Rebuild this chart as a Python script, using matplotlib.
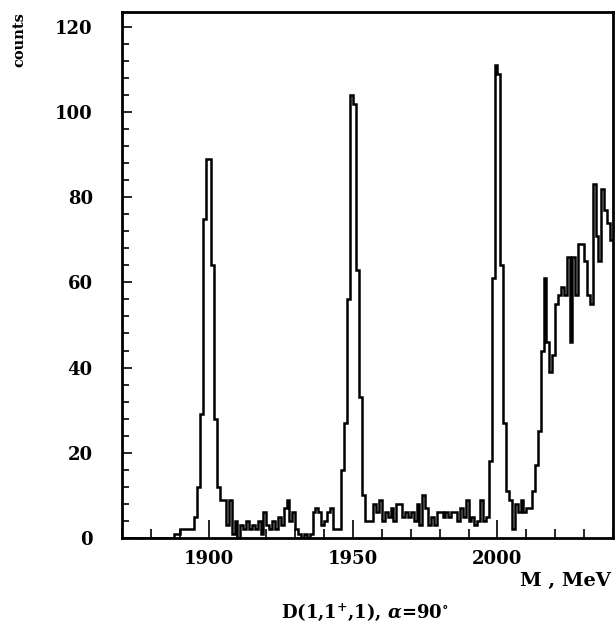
# -*- coding: utf-8 -*-
# Invariant mass spectrum D(1,1+,1), alpha = 90 deg
# ============================================

# Imports
import numpy as np
import matplotlib
matplotlib.use("Agg")
import matplotlib.pyplot as plt
from matplotlib.ticker import MultipleLocator
# ============================================

plt.close("all")

# Font settings in plot
plt.rc('font', family = 'DejaVu Serif', weight = 'bold', size = 13)
plt.rc('mathtext', fontset = 'dejavuserif')
# ============================================

# Data: 1 MeV bins from 1870 to 2040 MeV
bin_edges = np.arange(1870, 2041)
counts = [
    0, 0, 0, 0, 0, 0, 0, 0, 0, 0,          # 1870
    0, 0, 0, 0, 0, 0, 0, 0, 1, 1,          # 1880
    2, 2, 2, 2, 2, 5, 12, 29, 75, 89,      # 1890
    89, 64, 28, 12, 9, 9, 3, 9, 1, 4,      # 1900
    0, 3, 2, 4, 2, 3, 2, 4, 1, 6,          # 1910
    3, 2, 4, 2, 5, 3, 7, 9, 4, 6,          # 1920
    2, 1, 0, 1, 0, 1, 6, 7, 6, 3,          # 1930
    4, 6, 7, 2, 2, 2, 16, 27, 56, 104,     # 1940
    102, 63, 33, 10, 4, 4, 4, 8, 6, 9,     # 1950
    4, 6, 5, 7, 4, 8, 8, 5, 6, 5,          # 1960
    6, 4, 8, 3, 10, 7, 3, 5, 3, 6,         # 1970
    6, 5, 6, 5, 6, 6, 4, 7, 5, 9,          # 1980
    4, 5, 3, 4, 9, 4, 5, 18, 61, 111,      # 1990
    109, 64, 27, 11, 9, 2, 8, 6, 9, 6,     # 2000
    7, 7, 11, 17, 25, 44, 61, 46, 39, 43,  # 2010
    55, 57, 59, 57, 66, 46, 66, 57, 69, 69,  # 2020
    65, 57, 55, 83, 71, 65, 82, 77, 74, 70,  # 2030
]
x_major = [1900, 1950, 2000]
y_major = [0, 20, 40, 60, 80, 100, 120]
# ============================================

# Main
if __name__ == '__main__':
    fig = plt.figure(figsize = (6.16, 6.35), dpi = 100)
    ax = fig.add_axes([0.198, 0.153, 0.797, 0.828])

    ax.stairs(counts, bin_edges, baseline = None, color = 'k', linewidth = 1.8)

    ax.set_xlim(1870, 2040)
    ax.set_ylim(0, 123.5)
    ax.set_xticks(x_major)
    ax.set_yticks(y_major)
    ax.xaxis.set_minor_locator(MultipleLocator(10))
    ax.yaxis.set_minor_locator(MultipleLocator(4))

    ax.tick_params(axis = 'x', which = 'major', direction = 'in', length = 13, width = 1.2, pad = 9)
    ax.tick_params(axis = 'x', which = 'minor', direction = 'in', length = 6.5, width = 1.2)
    ax.tick_params(axis = 'y', which = 'major', direction = 'in', length = 7, width = 1.2, pad = 21)
    ax.tick_params(axis = 'y', which = 'minor', direction = 'in', length = 5, width = 1.2)
    for sp in ax.spines.values():
        sp.set_linewidth(2)

    # axis labels
    fig.text(0.032, 0.981, 'counts', rotation = 90, ha = 'center', va = 'top', fontsize = 10.5)
    ax.text(0.995, -0.065, 'M , MeV', transform = ax.transAxes, ha = 'right', va = 'top', fontsize = 14)
    fig.text(0.592, 0.036, r'D(1,1$^{+}$,1), $\alpha$=90$^{\circ}$', ha = 'center', va = 'center', fontsize = 13)

    fig.savefig("out.png", dpi = 100)
# ============================================
